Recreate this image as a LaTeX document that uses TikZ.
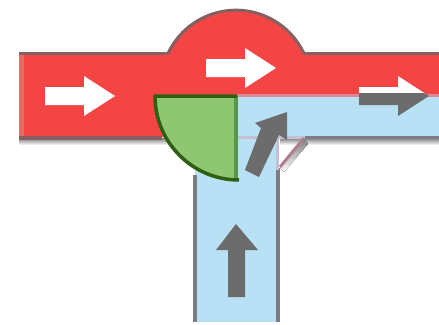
\documentclass[tikz,border=0pt]{standalone}
\definecolor{redfill}{HTML}{F44545}
\definecolor{redlight}{HTML}{F66464}
\definecolor{bluefill}{HTML}{B9E1F6}
\definecolor{greenfill}{HTML}{8FC672}
\definecolor{greenline}{HTML}{2F5F10}
\definecolor{greenlight}{HTML}{55984F}
\definecolor{arrowgray}{HTML}{6C6C6C}
\definecolor{redborder}{HTML}{856062}
\definecolor{blueborder}{HTML}{7C7C82}
\definecolor{shade}{HTML}{DEDEDE}
\definecolor{faint}{HTML}{C6C0D4}
\definecolor{pinkline}{HTML}{B07F8C}
\definecolor{seam}{HTML}{D98A96}
\tikzset{
  x=1pt,y=-1pt,
  border/.style={line width=3.5pt},
  rightarrow/.pic={\fill[pic actions] (-35,-9) -- (4,-9) -- (4,-20) -- (35,0) -- (4,20) -- (4,9) -- (-35,9) -- cycle;},
}
\begin{document}
\begin{tikzpicture}
\useasboundingbox (0,0) rectangle (439,324);
% shadow under the band
\fill[shade] (19,138) rectangle (168,145);
\fill[shade] (280,138) rectangle (439,145);
% blue vertical road
\fill[bluefill] (195,137) rectangle (278,322);
\draw[blueborder,border] (195,175) -- (195,322);
\draw[blueborder,border] (278,168) -- (278,322);
% red band and dome
\fill[redfill] (19,53) -- (168,53) arc[start angle=205,end angle=335,radius=75] -- (439,53) -- (439,137) -- (165,137) -- (19,137) -- cycle;
\fill[redlight] (19,55) rectangle (24,136);
\fill[bluefill] (237,96) rectangle (439,137);
\fill[bluefill] (195,137) rectangle (278,170);
\fill[seam] (237,93.5) rectangle (439,97);
% borders
\draw[redborder,border] (19,53.5) -- (168,53.5);
\draw[redborder,border] (304,53.5) -- (439,53.5);
\draw[redborder,line width=3pt] (168,53.5) arc[start angle=205,end angle=335,radius=75];
\draw[redborder,border] (19,138) -- (162,138);
\draw[blueborder,border] (305,137.5) -- (439,137.5);
\draw[faint,line width=3pt] (237,137.5) -- (305,137.5);
\draw[faint,line width=3pt] (277,137.5) -- (277,170);
\fill[shade] (280,168) -- (304,139) -- (308,144) -- (284,172) -- cycle;
\draw[pinkline,line width=3pt] (304,138) -- (280,167);
% green quarter disc
\fill[greenfill] (155,96) -- (237,96) -- (237,181) arc[start angle=90,end angle=180,radius=82] -- cycle;
\draw[greenlight,line width=4pt] (236,96) -- (236,180);
\draw[greenline,line width=3.5pt,line join=round] (237,96) -- (155,96) arc[start angle=180,end angle=90,radius=84];
% white arrows
\pic[fill=white] at (80,96) {rightarrow};
\pic[fill=white] at (241,68) {rightarrow};
\begin{scope}
  \clip (340,60) rectangle (439,93);
  \pic[fill=white] at (394,96) {rightarrow};
\end{scope}
\begin{scope}
  \clip (340,93) rectangle (439,125);
  \pic[fill=arrowgray] at (394,96) {rightarrow};
\end{scope}
% grey arrows
\fill[arrowgray] (228,297) -- (228,250) -- (216,250) -- (236,224) -- (258,250) -- (245,250) -- (245,297) -- cycle;
\fill[arrowgray] (245,170) -- (261,128) -- (255,123) -- (287,112) -- (287,140) -- (279,135) -- (259,177) -- cycle;
\end{tikzpicture}
\end{document}
